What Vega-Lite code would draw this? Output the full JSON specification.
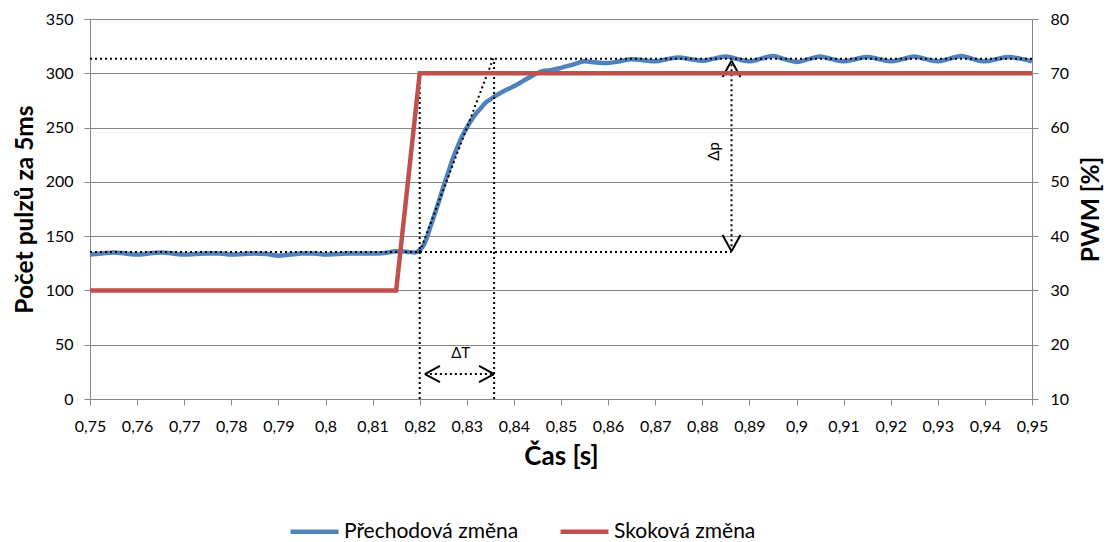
{
  "$schema": "https://vega.github.io/schema/vega-lite/v6.json",
  "autosize": {"type": "none"},
  "width": 942,
  "height": 380,
  "padding": {"left": 90, "top": 19, "right": 81, "bottom": 143},
  "background": "white",
  "config": {
    "font": "Lato",
    "view": {"stroke": null},
    "axis": {
      "domainColor": "#868686", "tickColor": "#868686", "gridColor": "#868686",
      "labelFont": "Lato", "labelFontSize": 16, "labelColor": "#000000", "labelOverlap": false,
      "labelFlush": false,
      "titleFont": "Lato", "titleFontSize": 24.5, "titleFontWeight": "bold", "titleColor": "#000000",
      "tickSize": 6
    }
  },
  "datasets": {
    "blue": [
      {"t": 0.75, "v": 133}, {"t": 0.7525, "v": 134}, {"t": 0.755, "v": 135}, {"t": 0.7575, "v": 134},
      {"t": 0.76, "v": 133}, {"t": 0.7625, "v": 134}, {"t": 0.765, "v": 135}, {"t": 0.7675, "v": 134},
      {"t": 0.77, "v": 133}, {"t": 0.7725, "v": 133.5}, {"t": 0.775, "v": 134}, {"t": 0.7775, "v": 134},
      {"t": 0.78, "v": 133}, {"t": 0.7825, "v": 133.5}, {"t": 0.785, "v": 134}, {"t": 0.7875, "v": 133.5},
      {"t": 0.79, "v": 132}, {"t": 0.7925, "v": 133}, {"t": 0.795, "v": 134}, {"t": 0.7975, "v": 134},
      {"t": 0.8, "v": 133}, {"t": 0.8025, "v": 133.5}, {"t": 0.805, "v": 134}, {"t": 0.8075, "v": 134},
      {"t": 0.81, "v": 134}, {"t": 0.8125, "v": 134.5}, {"t": 0.815, "v": 136}, {"t": 0.8175, "v": 135.5},
      {"t": 0.819, "v": 135}, {"t": 0.82, "v": 137}, {"t": 0.821, "v": 143}, {"t": 0.822, "v": 155},
      {"t": 0.823, "v": 168}, {"t": 0.824, "v": 181}, {"t": 0.825, "v": 195}, {"t": 0.826, "v": 208},
      {"t": 0.827, "v": 221}, {"t": 0.828, "v": 232}, {"t": 0.829, "v": 242}, {"t": 0.83, "v": 250},
      {"t": 0.831, "v": 257}, {"t": 0.832, "v": 263}, {"t": 0.833, "v": 268}, {"t": 0.834, "v": 273},
      {"t": 0.835, "v": 276}, {"t": 0.836, "v": 279}, {"t": 0.838, "v": 284}, {"t": 0.84, "v": 288},
      {"t": 0.842, "v": 293}, {"t": 0.844, "v": 298}, {"t": 0.846, "v": 302}, {"t": 0.848, "v": 303},
      {"t": 0.85, "v": 305}, {"t": 0.8525, "v": 308}, {"t": 0.855, "v": 311}, {"t": 0.8575, "v": 310},
      {"t": 0.86, "v": 309.5}, {"t": 0.8625, "v": 311}, {"t": 0.865, "v": 313}, {"t": 0.8675, "v": 312},
      {"t": 0.87, "v": 311}, {"t": 0.8725, "v": 313}, {"t": 0.875, "v": 314.5}, {"t": 0.8775, "v": 313},
      {"t": 0.88, "v": 311.5}, {"t": 0.8825, "v": 313.5}, {"t": 0.885, "v": 315.5}, {"t": 0.8875, "v": 313},
      {"t": 0.89, "v": 311}, {"t": 0.8925, "v": 313.5}, {"t": 0.895, "v": 316}, {"t": 0.8975, "v": 313},
      {"t": 0.9, "v": 310.5}, {"t": 0.9025, "v": 313}, {"t": 0.905, "v": 315.5}, {"t": 0.9075, "v": 313},
      {"t": 0.91, "v": 311}, {"t": 0.9125, "v": 313}, {"t": 0.915, "v": 315}, {"t": 0.9175, "v": 313},
      {"t": 0.92, "v": 311}, {"t": 0.9225, "v": 313}, {"t": 0.925, "v": 315.5}, {"t": 0.9275, "v": 313},
      {"t": 0.93, "v": 311}, {"t": 0.9325, "v": 313.5}, {"t": 0.935, "v": 316}, {"t": 0.9375, "v": 313},
      {"t": 0.94, "v": 311}, {"t": 0.9425, "v": 313}, {"t": 0.945, "v": 315}, {"t": 0.9475, "v": 313.5},
      {"t": 0.95, "v": 311}
    ],
    "red": [
      {"t": 0.75, "p": 30}, {"t": 0.815, "p": 30}, {"t": 0.82, "p": 70}, {"t": 0.95, "p": 70}
    ],
    "dotted": [
      {"x1": 0.75, "x2": 0.95, "y1": 313.5, "y2": 313.5},
      {"x1": 0.75, "x2": 0.8862, "y1": 135.5, "y2": 135.5},
      {"x1": 0.82, "x2": 0.82, "y1": 0, "y2": 300},
      {"x1": 0.8358, "x2": 0.8358, "y1": 0, "y2": 313.5},
      {"x1": 0.82, "x2": 0.8356, "y1": 135.5, "y2": 313.5},
      {"x1": 0.8862, "x2": 0.8862, "y1": 136, "y2": 311.6},
      {"x1": 0.8211, "x2": 0.8358, "y1": 23, "y2": 23}
    ],
    "chev": [
      {"x1": 0.8862, "x2": 0.8843, "y1": 311.6, "y2": 296.5},
      {"x1": 0.8862, "x2": 0.8881, "y1": 311.6, "y2": 296.5},
      {"x1": 0.8862, "x2": 0.8843, "y1": 136, "y2": 151},
      {"x1": 0.8862, "x2": 0.8881, "y1": 136, "y2": 151},
      {"x1": 0.8211, "x2": 0.8243, "y1": 23, "y2": 30.5},
      {"x1": 0.8211, "x2": 0.8243, "y1": 23, "y2": 15.5},
      {"x1": 0.8358, "x2": 0.8326, "y1": 23, "y2": 30.5},
      {"x1": 0.8358, "x2": 0.8326, "y1": 23, "y2": 15.5}
    ],
    "labels": [
      {"x": 0.8825, "y": 228, "txt": "Δp", "a": 270},
      {"x": 0.8287, "y": 42, "txt": "ΔT", "a": 0}
    ]
  },
  "layer": [
    {
      "layer": [
        {
          "data": {"name": "blue"},
          "transform": [{"calculate": "'Přechodová změna'", "as": "s"}],
          "mark": {"type": "line", "strokeWidth": 4.5, "interpolate": "monotone"},
          "encoding": {
            "x": {"field": "t", "type": "quantitative",
              "scale": {"domain": [0.75, 0.95], "nice": false, "zero": false},
              "axis": {"title": "Čas [s]", "grid": false, "titleFontSize": 26,
                "values": [0.75,0.76,0.77,0.78,0.79,0.8,0.81,0.82,0.83,0.84,0.85,0.86,0.87,0.88,0.89,0.9,0.91,0.92,0.93,0.94,0.95],
                "labelExpr": "replace(format(datum.value, '.2~f'), '.', ',')",
                "labelPadding": 13, "titlePadding": 9}},
            "y": {"field": "v", "type": "quantitative",
              "scale": {"domain": [0, 350], "nice": false},
              "axis": {"title": "Počet pulzů za 5ms", "values": [0,50,100,150,200,250,300,350],
                "grid": true, "labelPadding": 11, "titlePadding": 8}},
            "color": {"field": "s", "type": "nominal",
              "scale": {"domain": ["Přechodová změna", "Skoková změna"], "range": ["#4F81BD", "#C0504D"]},
              "legend": {"title": null, "orient": "none", "direction": "horizontal",
                "legendX": 198, "legendY": 486, "symbolType": "stroke", "symbolStrokeWidth": 4.5,
                "symbolSize": 2300, "labelFontSize": 21, "labelFont": "Lato", "labelColor": "#000000",
                "labelLimit": 400, "columnPadding": 32, "labelOffset": 3}}
          }
        },
        {
          "data": {"name": "dotted"},
          "mark": {"type": "rule", "color": "#000000", "strokeWidth": 2, "strokeDash": [2, 3]},
          "encoding": {
            "x": {"field": "x1", "type": "quantitative"},
            "x2": {"field": "x2"},
            "y": {"field": "y1", "type": "quantitative"},
            "y2": {"field": "y2"}
          }
        },
        {
          "data": {"name": "chev"},
          "mark": {"type": "rule", "color": "#000000", "strokeWidth": 2},
          "encoding": {
            "x": {"field": "x1", "type": "quantitative"},
            "x2": {"field": "x2"},
            "y": {"field": "y1", "type": "quantitative"},
            "y2": {"field": "y2"}
          }
        },
        {
          "data": {"name": "labels"},
          "mark": {"type": "text", "fontSize": 15, "font": "Lato", "color": "#000000", "baseline": "middle", "align": "center"},
          "encoding": {
            "x": {"field": "x", "type": "quantitative"},
            "y": {"field": "y", "type": "quantitative"},
            "text": {"field": "txt"},
            "angle": {"field": "a", "type": "quantitative", "scale": null}
          }
        }
      ]
    },
    {
      "data": {"name": "red"},
      "transform": [{"calculate": "'Skoková změna'", "as": "s"}],
      "mark": {"type": "line", "strokeWidth": 4.5},
      "encoding": {
        "x": {"field": "t", "type": "quantitative"},
        "y": {"field": "p", "type": "quantitative",
          "scale": {"domain": [10, 80], "nice": false, "zero": false},
          "axis": {"orient": "right", "title": "PWM [%]", "values": [10,20,30,40,50,60,70,80],
            "grid": false, "labelPadding": 12, "titlePadding": 11,
            "titleAngle": 270, "titleBaseline": "top"}},
        "color": {"field": "s", "type": "nominal"}
      }
    }
  ],
  "resolve": {"scale": {"y": "independent"}}
}
